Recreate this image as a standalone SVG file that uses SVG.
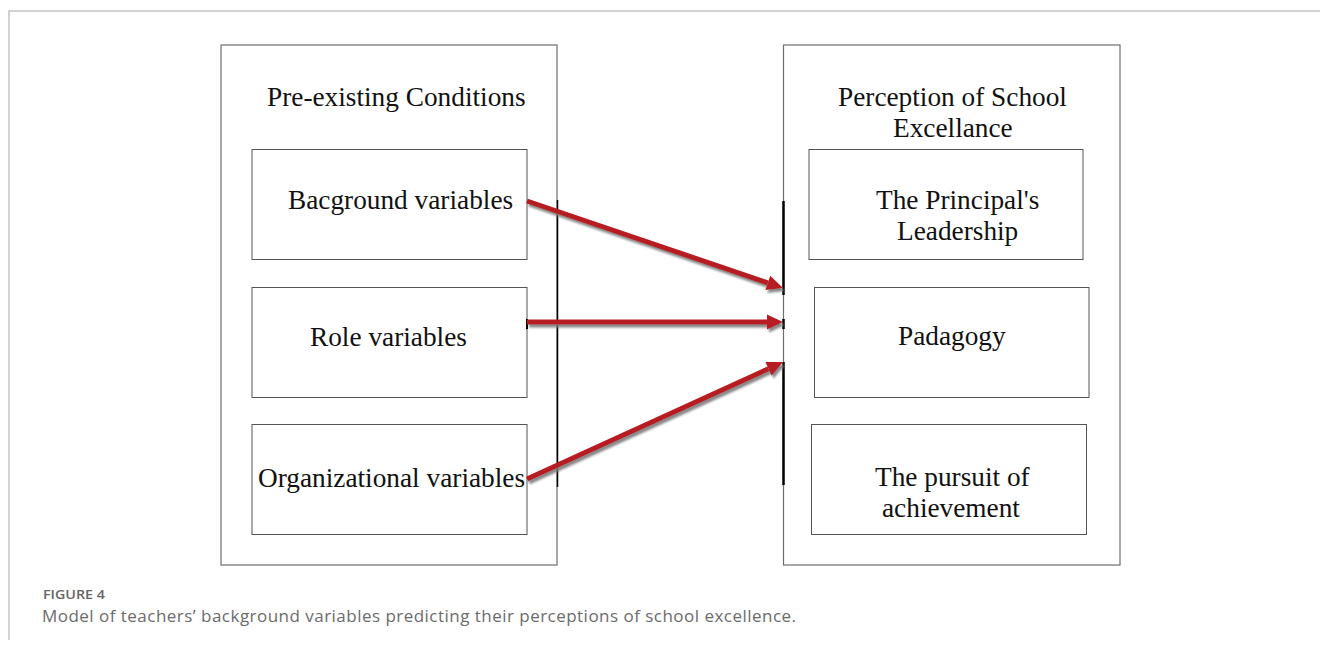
<svg xmlns="http://www.w3.org/2000/svg" width="1320" height="650" viewBox="0 0 1320 650">
  <style>
    .frame { fill: none; stroke: #c4c4c4; stroke-width: 1.5; }
    .container { fill: none; stroke: #6e6e6e; stroke-width: 1.2; }
    .box { fill: #ffffff; stroke: #555555; stroke-width: 1; }
    .label { font-family: "Liberation Serif", "Times New Roman", serif; font-size: 27.3px; fill: #111111; }
    .bar { stroke: #000000; fill: none; }
    .arrow { stroke: #b71c22; stroke-width: 5; fill: none; marker-end: url(#head); }
    .fig { font-family: "Open Sans", "Noto Sans", sans-serif; font-size: 13px; font-weight: 600; fill: #666666; }
    .caption { font-family: "Open Sans", "Noto Sans", sans-serif; font-size: 17px; fill: #6b6b6b; }
  </style>
  <defs>
    <marker id="head" markerUnits="userSpaceOnUse" markerWidth="18" markerHeight="16" refX="0" refY="7.5" orient="auto" overflow="visible">
      <path d="M0,0 L16,7.5 L0,15 z" fill="#b71c22"/>
    </marker>
    <filter id="shadow" x="-10%" y="-30%" width="120%" height="160%">
      <feDropShadow dx="2" dy="3" stdDeviation="1.2" flood-color="#7a7a7a" flood-opacity="0.9"/>
    </filter>
  </defs>

  <!-- page frame -->
  <path class="frame" d="M9,640 L9,11 L1320,11"/>

  <!-- left column -->
  <g id="pre-existing-conditions">
    <rect class="container" x="221" y="45" width="336" height="520"/>
    <line class="bar" x1="557.5" y1="200" x2="557.5" y2="487" stroke-width="1.5"/>
    <text class="label" x="267" y="106">Pre-existing Conditions</text>
  </g>
  <g id="background-variables">
    <rect class="box" x="252" y="149.5" width="275" height="110"/>
    <text class="label" x="288" y="209">Bacground variables</text>
  </g>
  <g id="role-variables">
    <rect class="box" x="252" y="287.5" width="275" height="110"/>
    <line class="bar" x1="527" y1="319" x2="527" y2="329" stroke-width="2"/>
    <text class="label" x="310" y="346">Role variables</text>
  </g>
  <g id="organizational-variables">
    <rect class="box" x="252" y="424.5" width="275" height="110"/>
    <text class="label" x="258" y="487">Organizational variables</text>
  </g>

  <!-- right column -->
  <g id="perception-of-school-excellence">
    <rect class="container" x="783.5" y="45" width="336.5" height="520"/>
    <text class="label" x="838" y="106">Perception of School</text>
    <text class="label" x="893" y="137">Excellance</text>
  </g>
  <g id="principal-leadership">
    <rect class="box" x="809" y="149.5" width="274" height="110"/>
    <text class="label" x="876" y="209">The Principal's</text>
    <text class="label" x="897" y="240">Leadership</text>
  </g>
  <g id="pedagogy">
    <rect class="box" x="814.5" y="287.5" width="274.5" height="110"/>
    <text class="label" x="898" y="345">Padagogy</text>
  </g>
  <g id="pursuit-of-achievement">
    <rect class="box" x="811.5" y="424.5" width="275" height="110"/>
    <text class="label" x="875" y="486">The pursuit of</text>
    <text class="label" x="882" y="517">achievement</text>
  </g>

  <!-- connectors -->
  <g id="connectors">
    <g class="bar" stroke-width="2.5">
      <line x1="783.5" y1="201" x2="783.5" y2="295"/>
      <line x1="783.5" y1="319" x2="783.5" y2="329"/>
      <line x1="783.5" y1="362" x2="783.5" y2="485"/>
    </g>
    <g filter="url(#shadow)">
      <line class="arrow" x1="527" y1="201" x2="767.8" y2="282.9"/>
      <line class="arrow" x1="527" y1="322" x2="767" y2="322"/>
      <line class="arrow" x1="527" y1="479" x2="768.5" y2="368.7"/>
    </g>
  </g>

  <!-- caption -->
  <text class="fig" x="43" y="599" textLength="62" lengthAdjust="spacingAndGlyphs">FIGURE 4</text>
  <text class="caption" x="42" y="622" textLength="754" lengthAdjust="spacing">Model of teachers’ background variables predicting their perceptions of school excellence.</text>
</svg>
